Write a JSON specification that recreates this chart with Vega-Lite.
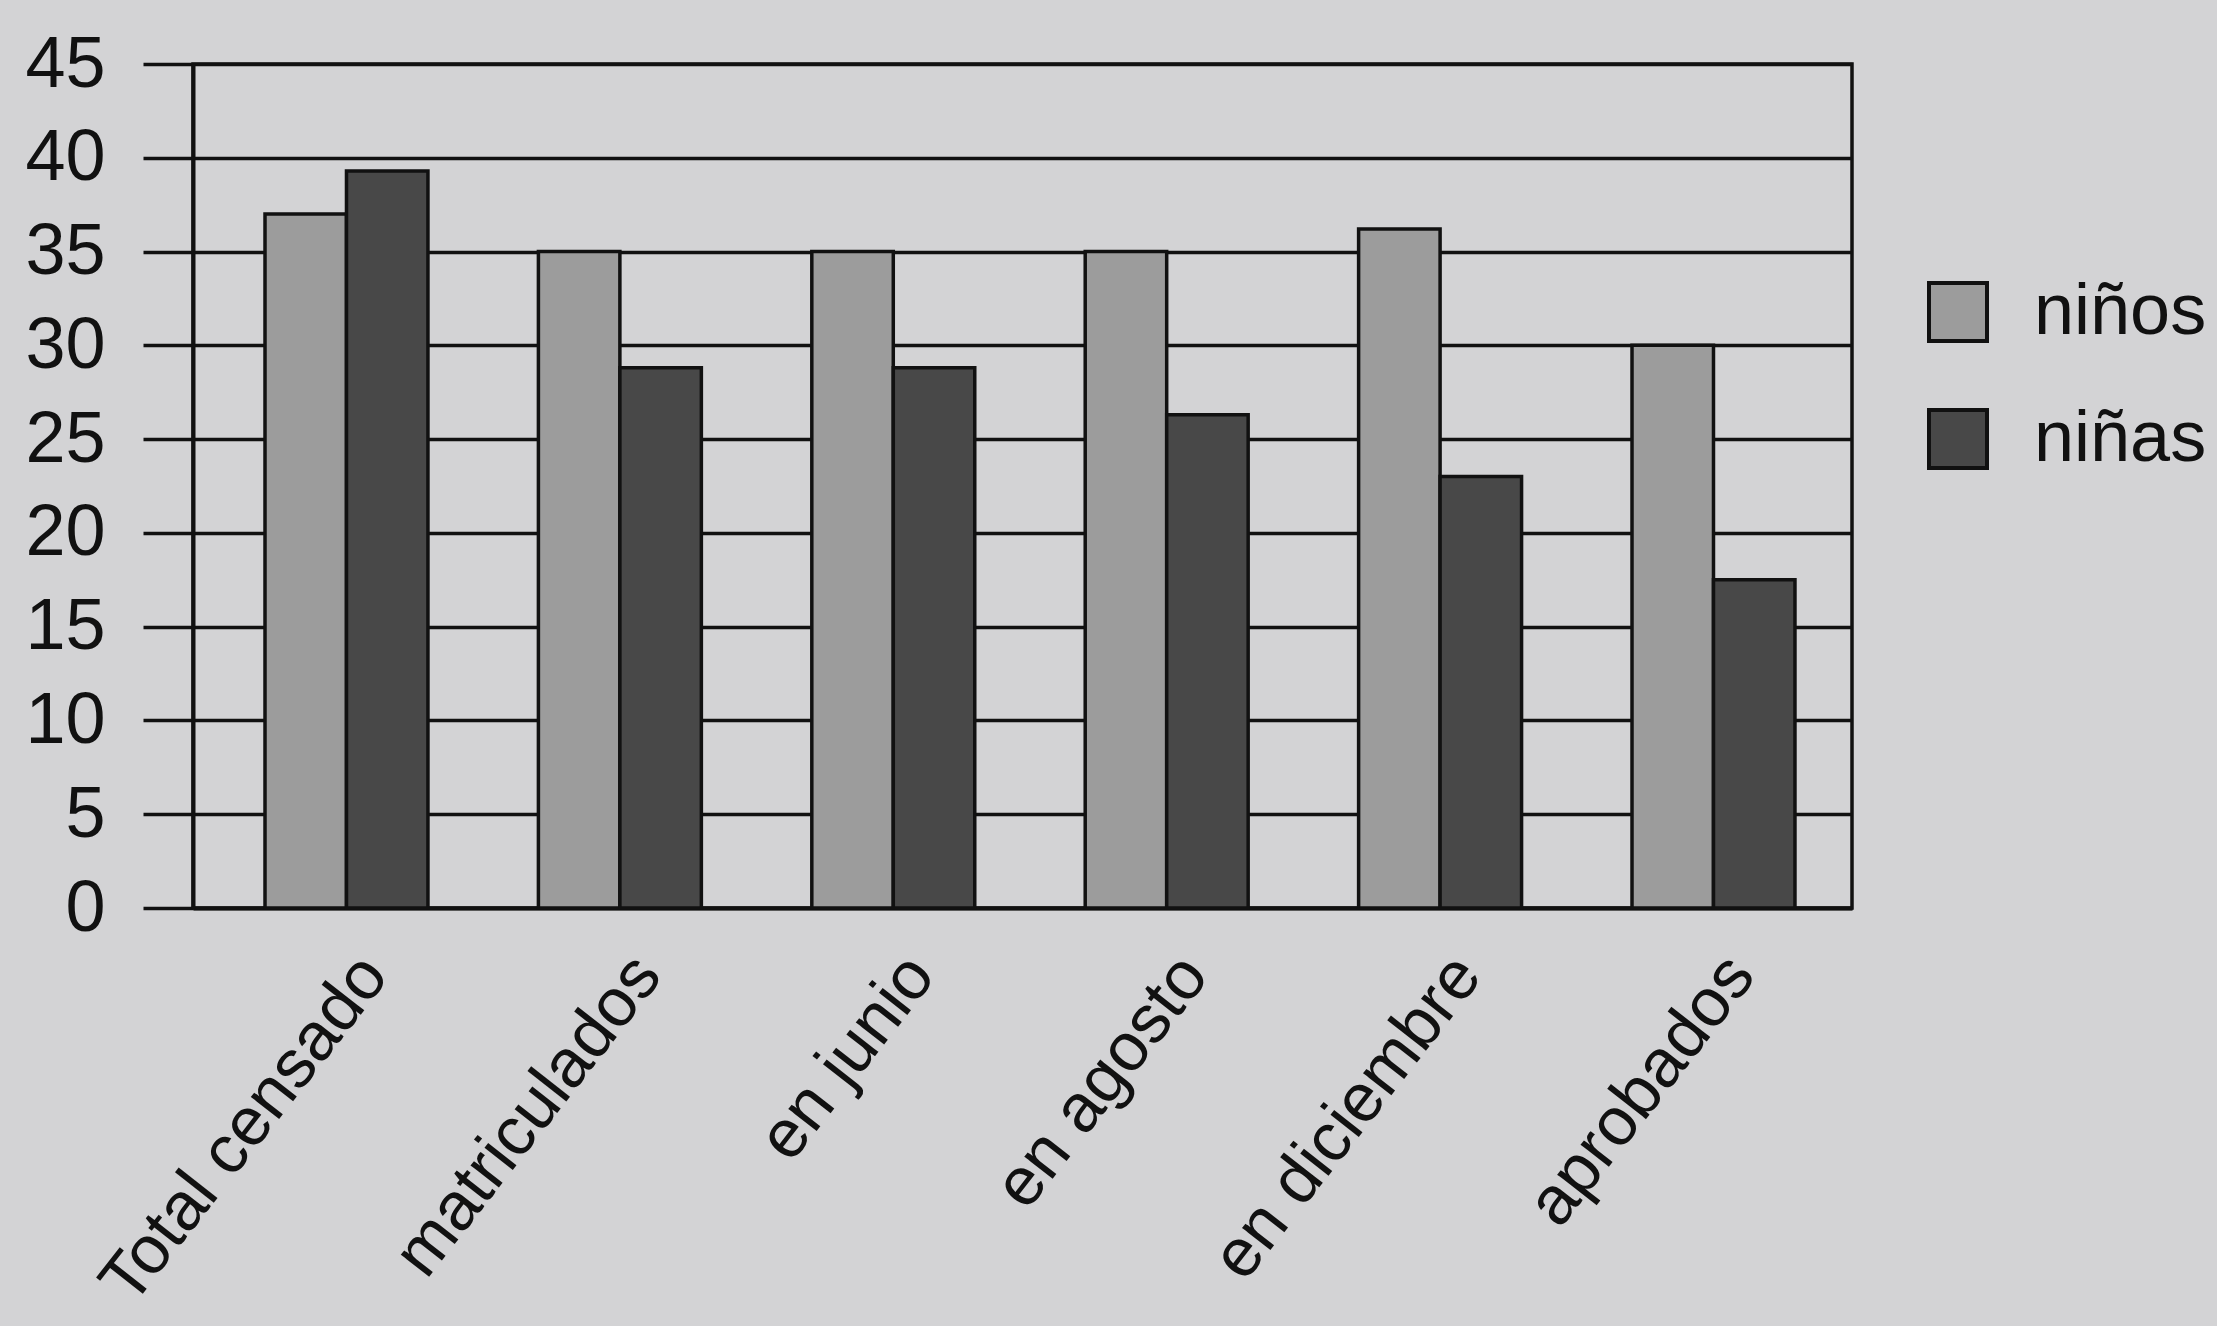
{
  "$schema": "https://vega.github.io/schema/vega-lite/v6.json",
  "width": 1659,
  "height": 844,
  "autosize": "none",
  "padding": {"left": 193, "top": 64, "right": 365, "bottom": 418},
  "background": "#d3d3d5",
  "data": {
    "values": [
      {"cat": "Total censado", "sexo": "niños", "valor": 37.0},
      {"cat": "Total censado", "sexo": "niñas", "valor": 39.3},
      {"cat": "matriculados", "sexo": "niños", "valor": 35.0},
      {"cat": "matriculados", "sexo": "niñas", "valor": 28.8},
      {"cat": "en junio", "sexo": "niños", "valor": 35.0},
      {"cat": "en junio", "sexo": "niñas", "valor": 28.8},
      {"cat": "en agosto", "sexo": "niños", "valor": 35.0},
      {"cat": "en agosto", "sexo": "niñas", "valor": 26.3},
      {"cat": "en diciembre", "sexo": "niños", "valor": 36.2},
      {"cat": "en diciembre", "sexo": "niñas", "valor": 23.0},
      {"cat": "aprobados", "sexo": "niños", "valor": 30.0},
      {"cat": "aprobados", "sexo": "niñas", "valor": 17.5}
    ]
  },
  "mark": {"type": "bar", "stroke": "#111", "strokeWidth": 3.5},
  "encoding": {
    "x": {
      "field": "cat",
      "type": "nominal",
      "sort": ["Total censado", "matriculados", "en junio", "en agosto", "en diciembre", "aprobados"],
      "scale": {"paddingInner": 0.404, "paddingOuter": 0.236, "align": 0.558},
      "axis": {
        "title": null,
        "labelAngle": -52,
        "labelFontSize": 68,
        "labelFont": "Liberation Sans",
        "labelColor": "#111",
        "labelPadding": 56,
        "labelOffset": 28,
        "labelLimit": 0,
        "ticks": false,
        "domainColor": "#111",
        "domainWidth": 4,
        "grid": false
      }
    },
    "xOffset": {
      "field": "sexo",
      "type": "nominal",
      "sort": ["niños", "niñas"],
      "scale": {"paddingInner": 0, "paddingOuter": 0}
    },
    "y": {
      "field": "valor",
      "type": "quantitative",
      "scale": {"domain": [0, 45], "nice": false},
      "axis": {
        "title": null,
        "values": [0, 5, 10, 15, 20, 25, 30, 35, 40, 45],
        "labelFontSize": 72,
        "labelFont": "Liberation Sans",
        "labelColor": "#111",
        "labelPadding": 38,
        "tickSize": 50,
        "tickWidth": 3.5,
        "tickColor": "#111",
        "domainColor": "#111",
        "domainWidth": 4,
        "grid": true,
        "gridColor": "#111",
        "gridWidth": 3.5,
        "gridOpacity": 1
      }
    },
    "color": {
      "field": "sexo",
      "type": "nominal",
      "sort": ["niños", "niñas"],
      "scale": {"domain": ["niños", "niñas"], "range": ["#9c9c9c", "#484848"]},
      "legend": {
        "title": null,
        "orient": "none",
        "legendX": 1729,
        "legendY": 212,
        "padding": 0,
        "symbolType": "square",
        "symbolSize": 3364,
        "symbolStrokeColor": "#111",
        "symbolStrokeWidth": 4,
        "symbolOpacity": 1,
        "labelFontSize": 72,
        "labelFont": "Liberation Sans",
        "labelColor": "#111",
        "labelOffset": 40,
        "labelLimit": 0,
        "rowPadding": 53
      }
    }
  },
  "config": {
    "view": {"stroke": "#111", "strokeWidth": 3.5},
    "axis": {"labelOverlap": false}
  }
}
